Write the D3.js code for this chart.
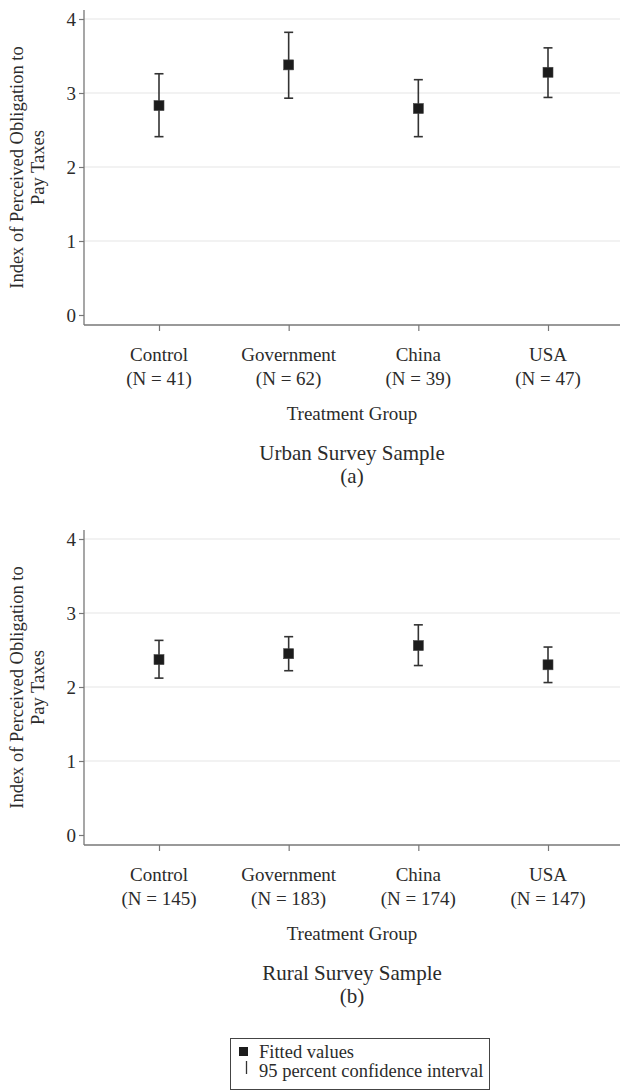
<!DOCTYPE html>
<html>
<head>
<meta charset="utf-8">
<script src="https://cdn.jsdelivr.net/npm/d3@7"></script>
<style>
  body{margin:0;background:#fff;}
  svg{display:block;font-family:"Liberation Serif","DejaVu Serif",serif;}
</style>
</head>
<body>
<svg id="chart" width="620" height="1091"></svg>
<script>
const groups=["Control","Government","China","USA"];
const yTicks=[0,1,2,3,4];

// urban sample (a)
const urbanN=[41,62,39,47];
const urbanFit=[2.83,3.38,2.79,3.28];
const urbanLo=[2.41,2.93,2.41,2.94];
const urbanHi=[3.26,3.82,3.18,3.61];

// rural sample (b)
const ruralN=[145,183,174,147];
const ruralFit=[2.37,2.45,2.56,2.30];
const ruralLo=[2.12,2.22,2.29,2.06];
const ruralHi=[2.63,2.68,2.84,2.54];

const ink="#2b2b2b";
const svg=d3.select("#chart");
const left=84, right=620;

const x=d3.scalePoint().domain(groups).range([159,548]);
const y=d3.scaleLinear().domain([0,4]).range([296,0]);

const drawPanel=(top,ns,fit,lo,hi,title,tag)=>{
  let g=svg.append("g").attr("transform",`translate(0,${top})`);
  let rows=groups.map((k,i)=>({k:k,n:ns[i],fit:fit[i],lo:lo[i],hi:hi[i]}));

  // gridlines
  g.selectAll("line.grid")
    .data(yTicks.filter((t)=>t>0))
    .enter()
      .append("line")
      .attr("class","grid")
      .attr("x1",left).attr("x2",right)
      .attr("y1",(d)=>y(d)).attr("y2",(d)=>y(d))
      .attr("stroke","#e6e6e6")
      .attr("stroke-width",1.2);

  // y axis
  let ya=g.append("g")
    .attr("transform",`translate(${left},0)`)
    .call(d3.axisLeft(y).tickValues(yTicks).tickSize(5).tickPadding(3).tickFormat(d3.format("d")));
  ya.select(".domain").remove();
  ya.selectAll("line").attr("stroke","#777").attr("stroke-width",1.2);
  ya.selectAll("text").attr("fill",ink).style("font-size","19px").style("font-family","Liberation Serif");

  // x axis
  let xa=g.append("g")
    .attr("transform",`translate(0,306)`)
    .call(d3.axisBottom(x).tickSize(6).tickFormat(""));
  xa.select(".domain").remove();
  xa.selectAll("line").attr("stroke","#777").attr("stroke-width",1.2);

  g.append("line")
    .attr("x1",left).attr("x2",left)
    .attr("y1",-9).attr("y2",306)
    .attr("stroke","#777").attr("stroke-width",1.3);
  g.append("line")
    .attr("x1",left).attr("x2",right)
    .attr("y1",306).attr("y2",306)
    .attr("stroke","#777").attr("stroke-width",1.3);

  // category labels
  let lab=g.selectAll("text.cat")
    .data(rows)
    .enter()
      .append("text")
      .attr("class","cat")
      .attr("text-anchor","middle")
      .attr("fill",ink)
      .style("font-size","19px");
  lab.append("tspan").attr("x",(d)=>x(d.k)).attr("y",342).text((d)=>d.k);
  lab.append("tspan").attr("x",(d)=>x(d.k)).attr("y",366).text((d)=>`(N = ${d.n})`);

  let mid=(left+right)/2;
  g.append("text")
    .attr("x",mid).attr("y",401)
    .attr("text-anchor","middle").attr("fill",ink)
    .style("font-size","19px")
    .text("Treatment Group");
  g.append("text")
    .attr("x",mid).attr("y",441)
    .attr("text-anchor","middle").attr("fill",ink)
    .style("font-size","21px")
    .text(title);
  g.append("text")
    .attr("x",mid).attr("y",464)
    .attr("text-anchor","middle").attr("fill",ink)
    .style("font-size","21px")
    .text(tag);

  // y title
  let yt=g.append("text")
    .attr("transform",`translate(0,${(-9+306)/2}) rotate(-90)`)
    .attr("text-anchor","middle").attr("fill",ink)
    .style("font-size","18.5px");
  yt.append("tspan").attr("x",0).attr("y",23).text("Index of Perceived Obligation to");
  yt.append("tspan").attr("x",0).attr("y",44).text("Pay Taxes");

  // confidence intervals
  let ci=g.selectAll("g.ci")
    .data(rows)
    .enter()
      .append("g")
      .attr("class","ci")
      .attr("transform",(d)=>`translate(${x(d.k)},0)`);
  ci.append("line")
    .attr("x1",0).attr("x2",0)
    .attr("y1",(d)=>y(d.lo)).attr("y2",(d)=>y(d.hi))
    .attr("stroke","#333").attr("stroke-width",1.6);
  ci.append("line")
    .attr("x1",-4.5).attr("x2",4.5)
    .attr("y1",(d)=>y(d.hi)).attr("y2",(d)=>y(d.hi))
    .attr("stroke","#333").attr("stroke-width",1.6);
  ci.append("line")
    .attr("x1",-4.5).attr("x2",4.5)
    .attr("y1",(d)=>y(d.lo)).attr("y2",(d)=>y(d.lo))
    .attr("stroke","#333").attr("stroke-width",1.6);
  ci.append("rect")
    .attr("x",-5).attr("width",10)
    .attr("y",(d)=>y(d.fit)-5).attr("height",10)
    .attr("fill","#1c1c1c").attr("stroke","#444").attr("stroke-width",0.6);
}

drawPanel(19,urbanN,urbanFit,urbanLo,urbanHi,"Urban Survey Sample","(a)");
drawPanel(539,ruralN,ruralFit,ruralLo,ruralHi,"Rural Survey Sample","(b)");

// legend
const legendItems=["Fitted values","95 percent confidence interval"];
let lg=svg.append("g");
lg.append("rect")
  .attr("x",230.5).attr("y",1038.5)
  .attr("width",259).attr("height",51)
  .attr("fill","#fff").attr("stroke","#444").attr("stroke-width",1);
lg.append("rect")
  .attr("x",239).attr("y",1047).attr("width",9).attr("height",9)
  .attr("fill","#1c1c1c");
lg.append("line")
  .attr("x1",246.5).attr("x2",246.5).attr("y1",1061).attr("y2",1074)
  .attr("stroke","#333").attr("stroke-width",1.3);
lg.selectAll("text.leg")
  .data(legendItems)
  .enter()
    .append("text")
    .attr("class","leg")
    .attr("x",259)
    .attr("y",(d,i)=>1058+i*19)
    .attr("fill",ink)
    .style("font-size","18.5px")
    .text((d)=>d);
</script>
</body>
</html>
